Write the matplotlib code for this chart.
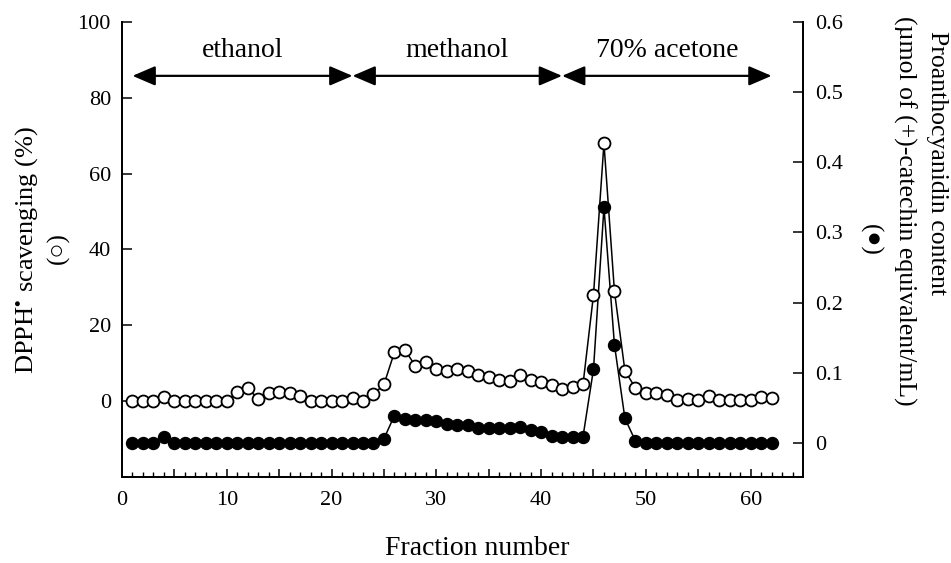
import numpy as np
import matplotlib
matplotlib.use('Agg')
import matplotlib.pyplot as plt
from matplotlib.ticker import MultipleLocator, FuncFormatter

# ==========================================
# 数据
# ==========================================
fraction = np.arange(1, 63)

# DPPH 清除率 (%) - 空心圆, 左轴
dpph = [0, 0, 0, 1, 0, 0, 0, 0, 0, 0,
        2.5, 3.4, 0.6, 2.2, 2.5, 2.2, 1.3, 0, 0, 0,
        0, 0.9, 0, 1.8, 4.4, 12.9, 13.5, 9.3, 10.2, 8.4,
        8, 8.5, 8, 7, 6.3, 5.7, 5.3, 7, 5.7, 5,
        4.3, 3.3, 3.8, 4.4, 28, 68, 29, 8, 3.5, 2.2,
        2.2, 1.7, 0.3, 0.6, 0.3, 1.3, 0.3, 0.3, 0.3, 0.3,
        1.1, 0.7]

# 原花青素含量 - 实心圆, 右轴
proantho = [0, 0, 0, 0.009, 0, 0, 0, 0, 0, 0,
            0, 0, 0, 0, 0, 0, 0, 0, 0, 0,
            0, 0, 0, 0, 0.006, 0.039, 0.034, 0.033, 0.033, 0.031,
            0.027, 0.026, 0.026, 0.022, 0.021, 0.021, 0.021, 0.023, 0.019, 0.016,
            0.01, 0.009, 0.009, 0.009, 0.105, 0.336, 0.14, 0.035, 0.003, 0,
            0, 0, 0, 0, 0, 0, 0, 0, 0, 0,
            0, 0]

# 溶剂区段
solvents = ['ethanol', 'methanol', '70% acetone']
seg_edges = [1, 22, 42, 62]

left_ticks = [0, 20, 40, 60, 80, 100]
right_ticks = [0, 0.1, 0.2, 0.3, 0.4, 0.5, 0.6]

# ==========================================
# 绘图
# ==========================================
plt.rcParams['font.family'] = ['Liberation Serif', 'DejaVu Serif']
plt.rcParams['mathtext.fontset'] = 'stix'

fig = plt.figure(figsize=(9.51, 5.63), dpi=100)
ax = fig.add_axes([0.1283, 0.1528, 0.7161, 0.8081])
ax2 = ax.twinx()

ax2.plot(fraction, proantho, color='black', lw=1.1, marker='o', ms=8.6,
         mfc='black', mec='black', zorder=2)
ax.plot(fraction, dpph, color='black', lw=1.1, marker='o', ms=8.6,
        mfc='white', mec='black', mew=1.3, zorder=3)
ax.set_zorder(ax2.get_zorder() + 1)
ax.patch.set_visible(False)

ax.set_xlim(0, 65)
ax.set_ylim(-20, 100)
ax2.set_ylim(-0.0485, 0.6)

for a in (ax, ax2):
    a.spines['top'].set_visible(False)
    for s in a.spines.values():
        s.set_linewidth(1.3)

ax.set_yticks(left_ticks)
ax2.set_yticks(right_ticks)
ax2.yaxis.set_major_formatter(FuncFormatter(lambda v, p: '0' if v == 0 else f'{v:.1f}'))

ax.xaxis.set_major_locator(MultipleLocator(5))
ax.xaxis.set_minor_locator(MultipleLocator(1))
ax.xaxis.set_major_formatter(FuncFormatter(lambda v, p: f'{int(v)}' if v % 10 == 0 else ''))

ax.tick_params(axis='x', which='major', direction='in', length=6, width=1.1, labelsize=16, pad=10)
ax.tick_params(axis='x', which='minor', direction='in', length=3.5, width=1.0)
ax.tick_params(axis='y', direction='in', length=7, width=1.1, labelsize=16, pad=8)
ax2.tick_params(axis='y', direction='in', length=7, width=1.1, labelsize=16, pad=9)

# 溶剂箭头
arrow_y = 85.8
for i, name in enumerate(solvents):
    x0, x1 = seg_edges[i], seg_edges[i + 1]
    ax.annotate('', xy=(x1, arrow_y), xytext=(x0, arrow_y),
                arrowprops=dict(arrowstyle='<|-|>,head_length=0.7,head_width=0.3',
                                color='black', lw=1.6, mutation_scale=20,
                                shrinkA=0, shrinkB=0))
    ax.text((x0 + x1) / 2, 92.5, name, ha='center', va='center', fontsize=20)

# 轴标签
fig.text(0.502, 0.0135, 'Fraction number', ha='center', va='baseline', fontsize=20)
fig.text(0.028, 0.556, r'DPPH$^{\bullet}$ scavenging (%)', rotation=90,
         ha='center', va='center', fontsize=19)
fig.text(0.061, 0.56, '(○)', rotation=90, ha='center', va='center', fontsize=18)
fig.text(0.985, 0.71, 'Proanthocyanidin content', rotation=-90,
         ha='center', va='center', fontsize=18.5)
fig.text(0.951, 0.625, '(µmol of (+)-catechin equivalent/mL)', rotation=-90,
         ha='center', va='center', fontsize=18.5)
fig.text(0.915, 0.574, '(●)', rotation=-90, ha='center', va='center', fontsize=18)

plt.savefig('out.png', dpi=100)
plt.close()
